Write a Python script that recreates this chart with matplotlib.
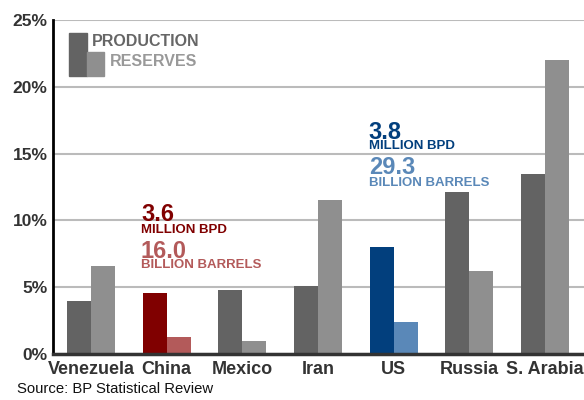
import matplotlib.pyplot as plt
import numpy as np
from matplotlib.patches import Rectangle

plt.rcParams['font.family'] = ['Liberation Sans', 'DejaVu Sans']

countries = ["Venezuela", "China", "Mexico", "Iran", "US", "Russia", "S. Arabia"]
production = [4.0, 4.6, 4.8, 5.1, 8.0, 12.1, 13.5]   # share of world output, %
reserves = [6.6, 1.3, 1.0, 11.5, 2.4, 6.2, 22.0]     # share of world reserves, %
yticks = [0, 5, 10, 15, 20, 25]

prod_colors = ["#636363", "#800000", "#636363", "#636363", "#023f7d", "#636363", "#636363"]
res_colors = ["#8f8f8f", "#b35a5a", "#8f8f8f", "#8f8f8f", "#5a88b8", "#8f8f8f", "#8f8f8f"]

fig = plt.figure(figsize=(5.84, 4.0), dpi=100)
ax = fig.add_axes([53 / 584, 46 / 400, 531 / 584, 334 / 400])

x = np.arange(len(countries))
w = 0.317
ax.bar(x - w, production, width=w, align='edge', color=prod_colors, zorder=3)
ax.bar(x, reserves, width=w, align='edge', color=res_colors, zorder=3)

ax.set_xlim(-0.502, 6.515)
ax.set_ylim(0, 25)
ax.set_yticks(yticks)
ax.set_yticklabels([f"{t}%" for t in yticks], fontsize=12.5, fontweight='bold', color='#333333')
ax.set_xticks(x)
ax.set_xticklabels(countries, fontsize=13, fontweight='bold', color='#333333')
ax.tick_params(axis='both', length=0)
ax.tick_params(axis='y', pad=4)
ax.tick_params(axis='x', pad=5)

ax.grid(axis='y', color='#bbbbbb', linewidth=1.5, zorder=0)
for s in ['top', 'right']:
    ax.spines[s].set_visible(False)
ax.spines['left'].set_color('black')
ax.spines['left'].set_linewidth(2)
ax.spines['bottom'].set_color('#333333')
ax.spines['bottom'].set_linewidth(2.5)
ax.spines['left'].set_zorder(4)
ax.spines['bottom'].set_zorder(4)

# legend built by hand: two stepped blocks with labels
ax.add_patch(Rectangle((-0.29, 20.82), 0.237, 3.21, color='#636363', zorder=3, clip_on=False))
ax.add_patch(Rectangle((-0.053, 20.82), 0.225, 1.79, color='#8f8f8f', zorder=3, clip_on=False))
ax.text(0.013, 23.36, "PRODUCTION", fontsize=11.5, fontweight='bold', color='#666666', va='center')
ax.text(0.25, 21.87, "RESERVES", fontsize=11.5, fontweight='bold', color='#999999', va='center')

# callouts for China and the US
def callout(xpos, ys, prod_val, res_val, dark, light):
    ax.text(xpos, ys[0], prod_val, fontsize=17, fontweight='bold', color=dark, va='baseline', zorder=5)
    ax.text(xpos, ys[1], "MILLION BPD", fontsize=9.5, fontweight='bold', color=dark, va='baseline', zorder=5)
    ax.text(xpos, ys[2], res_val, fontsize=17, fontweight='bold', color=light, va='baseline', zorder=5)
    ax.text(xpos, ys[3], "BILLION BARRELS", fontsize=9.5, fontweight='bold', color=light, va='baseline', zorder=5)

callout(0.66, [9.98, 9.05, 7.2, 6.45], "3.6", "16.0", "#800000", "#b35a5a")
callout(3.67, [16.1, 15.32, 13.48, 12.56], "3.8", "29.3", "#023f7d", "#5a88b8")

fig.text(17 / 584, 1 - 389 / 400, "Source: BP Statistical Review", fontsize=10.7, color='#111111', va='center')

fig.savefig("out.png", dpi=100)
